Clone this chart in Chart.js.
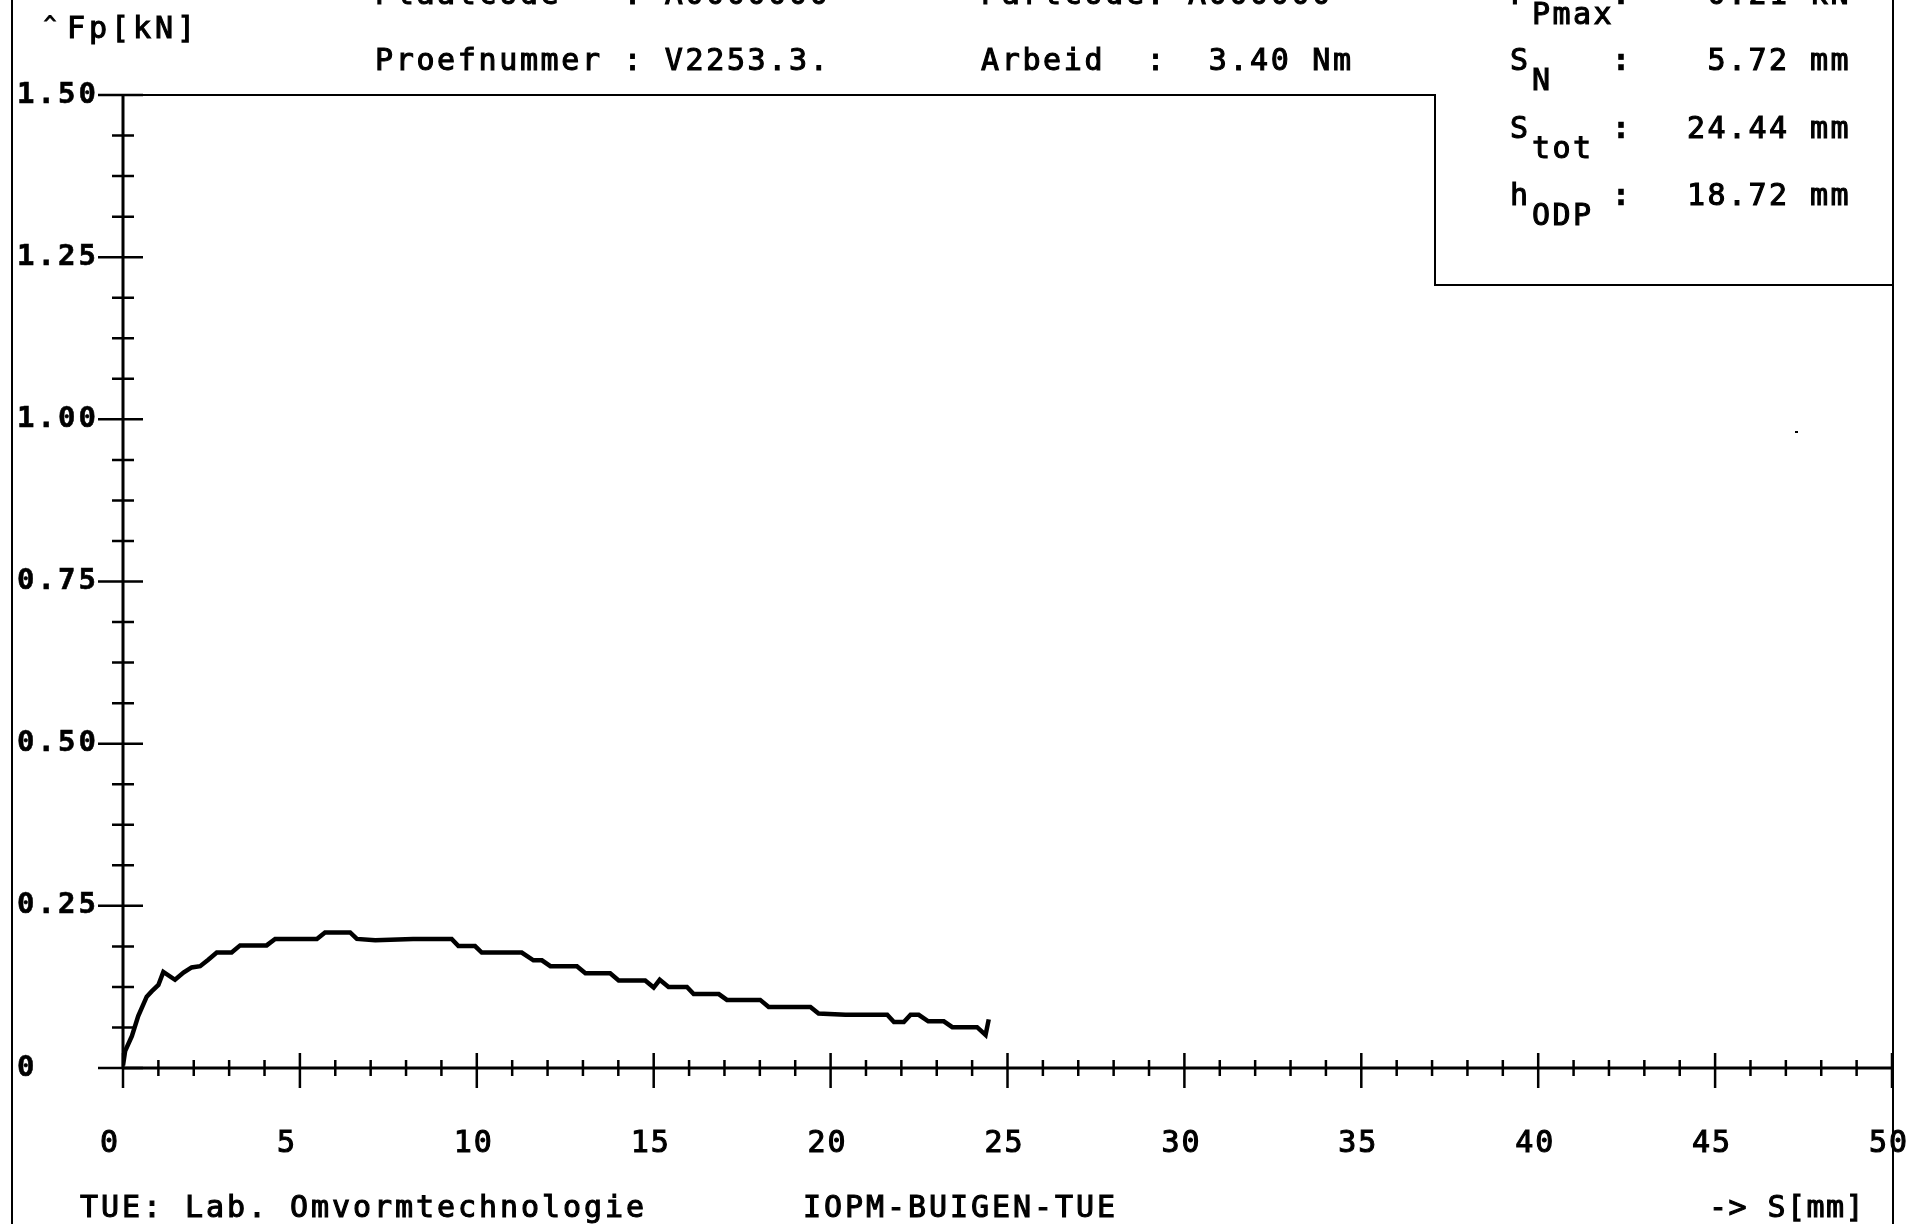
<!DOCTYPE html>
<html lang="nl">
<head>
  <meta charset="UTF-8" />
  <title>Fp - S buigproef V2253.3.</title>
  <script src="https://cdn.jsdelivr.net/npm/chart.js@4.4.1/dist/chart.umd.min.js"></script>
  <style>
    html, body { margin: 0; padding: 0; background: #fff; }
    canvas { display: block; }
  </style>
</head>
<body>
  <canvas id="myChart" width="1928" height="1224"></canvas>

  <script>
    const sMm = [0, 0.06, 0.25, 0.43, 0.67, 0.81, 1.0, 1.14, 1.47, 1.71, 1.94, 2.18, 2.41, 2.65, 3.07, 3.31,
      4.06, 4.3, 5.48, 5.71, 6.42, 6.61, 7.13, 8.2, 9.29, 9.48, 9.95, 10.14, 11.27, 11.6, 11.84, 12.08,
      12.83, 13.07, 13.77, 14.01, 14.76, 15.0, 15.17, 15.42, 15.94, 16.13, 16.84, 17.07, 18.01, 18.25,
      19.43, 19.66, 20.42, 21.6, 21.79, 22.07, 22.26, 22.49, 22.76, 23.2, 23.44, 24.14, 24.38, 24.47];
    const fpKn = [0.004, 0.026, 0.049, 0.08, 0.11, 0.118, 0.128, 0.148, 0.136, 0.147, 0.155, 0.157, 0.167, 0.178, 0.178, 0.189,
      0.189, 0.199, 0.199, 0.209, 0.209, 0.199, 0.197, 0.199, 0.199, 0.188, 0.188, 0.178, 0.178, 0.166, 0.166, 0.157,
      0.157, 0.146, 0.146, 0.135, 0.135, 0.124, 0.136, 0.125, 0.125, 0.114, 0.114, 0.105, 0.105, 0.094,
      0.094, 0.084, 0.082, 0.082, 0.071, 0.071, 0.082, 0.082, 0.072, 0.072, 0.063, 0.063, 0.051, 0.075];

    const yTickValues = [0, 0.25, 0.5, 0.75, 1.0, 1.25, 1.5];
    const yTickLabels = ['0', '0.25', '0.50', '0.75', '1.00', '1.25', '1.50'];
    const xTickValues = [0, 5, 10, 15, 20, 25, 30, 35, 40, 45, 50];
    const xTickLabels = ['0', '5', '10', '15', '20', '25', '30', '35', '40', '45', '50'];

    const headerLines = [
      ['Plaatcode   : A0000000', 375, 4],
      ['Partcode: A000000', 981, 4],
      ['Proefnummer : V2253.3.', 375, 70],
      ['Arbeid  :  3.40 Nm', 981, 70]
    ];
    const statRows = [
      ['F', 'Pmax', '0.21 kN', 4],
      ['S', 'N', '5.72 mm', 70],
      ['S', 'tot', '24.44 mm', 138],
      ['h', 'ODP', '18.72 mm', 205]
    ];

    const MONO = '"DejaVu Sans Mono", "Liberation Mono", monospace';

    // plotterletter: monospace met vaste celbreedte, iets aangezet
    function txt(ctx, s, x, y, size, cell, bold) {
      ctx.font = (bold ? 'bold ' : '') + size + 'px ' + MONO;
      ctx.letterSpacing = '0px';
      const w = ctx.measureText('M').width;
      ctx.letterSpacing = (cell - w) + 'px';
      ctx.fillText(s, x, y);
      ctx.lineWidth = bold ? 0.6 : 1.1;
      ctx.strokeText(s, x, y);
      ctx.letterSpacing = '0px';
    }

    const plotterPlugin = {
      id: 'plotter',
      afterDraw(chart) {
        const ctx = chart.ctx;
        const xs = chart.scales.x, ys = chart.scales.y;
        const x0 = xs.getPixelForValue(0), y0 = ys.getPixelForValue(0);
        const xEnd = xs.getPixelForValue(50), yTop = ys.getPixelForValue(1.5);
        ctx.save();
        ctx.strokeStyle = '#000';
        ctx.fillStyle = '#000';
        ctx.lineCap = 'butt';

        // kader
        ctx.lineWidth = 2;
        ctx.beginPath();
        ctx.moveTo(12, 0); ctx.lineTo(12, 1224);
        ctx.moveTo(1893, 0); ctx.lineTo(1893, 1224);
        ctx.moveTo(x0, yTop); ctx.lineTo(1435, yTop); ctx.lineTo(1435, 285); ctx.lineTo(1893, 285);
        ctx.stroke();
        ctx.fillRect(1795, 431, 3, 2);

        // assen
        ctx.lineWidth = 3;
        ctx.beginPath();
        ctx.moveTo(x0, y0); ctx.lineTo(x0, yTop);
        ctx.moveTo(x0, y0); ctx.lineTo(xEnd, y0);
        ctx.stroke();

        ctx.lineWidth = 2.5;
        ctx.beginPath();
        for (let i = 0; i <= 24; i++) {
          const py = ys.getPixelForValue(i * 0.0625);
          if (i % 4 === 0) { ctx.moveTo(x0 - 25, py); ctx.lineTo(x0 + 20, py); }
          else { ctx.moveTo(x0 - 11, py); ctx.lineTo(x0 + 11, py); }
        }
        for (let i = 0; i <= 50; i++) {
          const px = xs.getPixelForValue(i);
          if (i % 5 === 0) { ctx.moveTo(px, y0 - 15); ctx.lineTo(px, y0 + 20); }
          else { ctx.moveTo(px, y0 - 8); ctx.lineTo(px, y0 + 8); }
        }
        ctx.stroke();

        // ticklabels
        ctx.textBaseline = 'middle';
        ctx.textAlign = 'left';
        yTickValues.forEach((v, i) => {
          txt(ctx, yTickLabels[i], 17, ys.getPixelForValue(v), 29, 20.5, true);
        });
        ctx.textBaseline = 'alphabetic';
        xTickValues.forEach((v, i) => {
          txt(ctx, xTickLabels[i], xs.getPixelForValue(v) - 23, 1152, 30, 20, false);
        });

        // teksten
        txt(ctx, '^', 44, 30, 20, 14, false);
        txt(ctx, 'Fp[kN]', 67, 38, 30, 22, false);
        headerLines.forEach(h => txt(ctx, h[0], h[1], h[2], 30, 20.7, false));
        statRows.forEach(r => {
          txt(ctx, r[0], 1510, r[3], 30, 20, false);
          txt(ctx, r[1], 1532, r[3] + 20, 30, 20.5, false);
          txt(ctx, ':', 1612, r[3], 30, 20, true);
          ctx.textAlign = 'right';
          txt(ctx, r[2], 1851, r[3], 30, 20.5, false);
          ctx.textAlign = 'left';
        });
        txt(ctx, 'TUE: Lab. Omvormtechnologie', 80, 1217, 30, 21, false);
        txt(ctx, 'IOPM-BUIGEN-TUE', 803, 1217, 30, 21, false);
        txt(ctx, '-> S[mm]', 1709, 1217, 30, 19.5, false);
        ctx.restore();
      }
    };

    new Chart(document.getElementById('myChart'), {
      type: 'line',
      data: {
        datasets: [{
          data: sMm.map((s, i) => ({ x: s, y: fpKn[i] })),
          borderColor: '#000',
          borderWidth: 4.5,
          pointRadius: 0,
          tension: 0,
          fill: false
        }]
      },
      options: {
        responsive: false,
        animation: false,
        layout: { padding: { left: 123, right: 36, top: 95, bottom: 156 } },
        scales: {
          x: { type: 'linear', min: 0, max: 50, display: false },
          y: { type: 'linear', min: 0, max: 1.5, display: false }
        },
        plugins: { legend: { display: false }, tooltip: { enabled: false } }
      },
      plugins: [plotterPlugin]
    });
  </script>
</body>
</html>
